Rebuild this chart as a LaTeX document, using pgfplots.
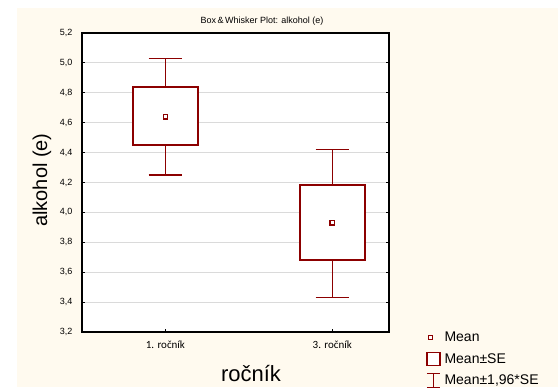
\documentclass[border=0pt]{standalone}
\usepackage{fontspec}
\setmainfont{Liberation Sans}
\newfontfamily\calib{Carlito}
\usepackage{pgfplots}
\pgfplotsset{compat=1.18}
\definecolor{dred}{RGB}{140,0,0}
\definecolor{cream}{RGB}{255,250,239}
\definecolor{gridc}{RGB}{218,218,218}
\begin{document}
\begin{tikzpicture}
\fill[white] (0bp,0bp) rectangle (558bp,387bp);
\fill[cream] (17bp,0bp) rectangle (558bp,379bp);
\begin{axis}[
  at={(82bp,55bp)}, anchor=south west,
  scale only axis, width=307bp, height=299bp,
  xmin=-0.5, xmax=1.34, ymin=3.2, ymax=5.2,
  axis background/.style={fill=white},
  axis line style={black, line width=1.3bp},
  xtick={0,1}, xticklabels={1. ročník, 3. ročník},
  xticklabel style={font=\calib\fontsize{11bp}{12bp}\selectfont, yshift=-5bp},
  ytick={3.2,3.4,3.6,3.8,4.0,4.2,4.4,4.6,4.8,5.0,5.2},
  yticklabel style={font=\fontsize{9bp}{10bp}\selectfont, xshift=-6bp},
  yticklabel={\pgfmathprintnumber[fixed,fixed zerofill,precision=1,use comma,assume math mode=true]{\tick}},
  xtick pos=bottom,
  tick align=inside, major tick length=3bp,
  tick style={black, line width=0.8bp},
  ymajorgrids, grid style={gridc, line width=1.2bp},
  whisk/.style={forget plot, draw=dred, line width=1.4bp, mark=none},
  legend style={at={(axis description cs:1.12,0.008)}, anchor=north west,
    draw=none, fill=none, font=\fontsize{14bp}{16bp}\selectfont,
    legend cell align=left, inner sep=0pt, row sep=6.5bp,
    /tikz/every odd column/.append style={column sep=2bp}},
]
% whiskers: mean +/- 1.96*SE
\addplot[whisk] coordinates {(0,4.25) (0,5.03)};
\addplot[whisk] coordinates {(-0.1,5.03) (0.1,5.03)};
\addplot[whisk] coordinates {(-0.1,4.25) (0.1,4.25)};
\addplot[whisk] coordinates {(1,3.43) (1,4.42)};
\addplot[whisk] coordinates {(0.9,4.42) (1.1,4.42)};
\addplot[whisk] coordinates {(0.9,3.43) (1.1,3.43)};
% boxes: mean +/- SE
\addplot[forget plot, draw=dred, line width=2bp, fill=white, line join=miter]
  coordinates {(-0.195,4.45) (0.195,4.45) (0.195,4.84) (-0.195,4.84) (-0.195,4.45) (0.195,4.45)};
\addplot[forget plot, draw=dred, line width=2bp, fill=white, line join=miter]
  coordinates {(0.805,3.68) (1.195,3.68) (1.195,4.18) (0.805,4.18) (0.805,3.68) (1.195,3.68)};
% means
\addplot[only marks, mark=square*, mark size=2.2bp,
  mark options={fill=white, draw=dred, line width=1.2bp},
  legend image code/.code={\draw[dred, line width=1bp, fill=white] (2bp,-2bp) rectangle (6bp,2bp);}]
  coordinates {(0,4.64) (1,3.93)};
\addlegendentry{Mean}
\addlegendimage{legend image code/.code={\draw[dred, line width=1.5bp, fill=white] (0bp,-6.5bp) rectangle (13bp,6.5bp);}}
\addlegendentry{Mean±SE}
\addlegendimage{legend image code/.code={\draw[dred, line width=1bp] (0bp,-7bp) -- (13bp,-7bp) (6.5bp,-7bp) -- (6.5bp,7bp) (0bp,7bp) -- (13bp,7bp);}}
\addlegendentry{Mean±1,96*SE}
\end{axis}
\node[font=\fontsize{9bp}{10bp}\selectfont] at (262bp,366bp) {Box\,\&\,Whisker Plot: alkohol (e)};
\node[font=\fontsize{20bp}{22bp}\selectfont, rotate=90] at (42bp,207bp) {alkohol (e)};
\node[font=\fontsize{22bp}{24bp}\selectfont] at (251bp,13bp) {ročník};
\end{tikzpicture}
\end{document}
